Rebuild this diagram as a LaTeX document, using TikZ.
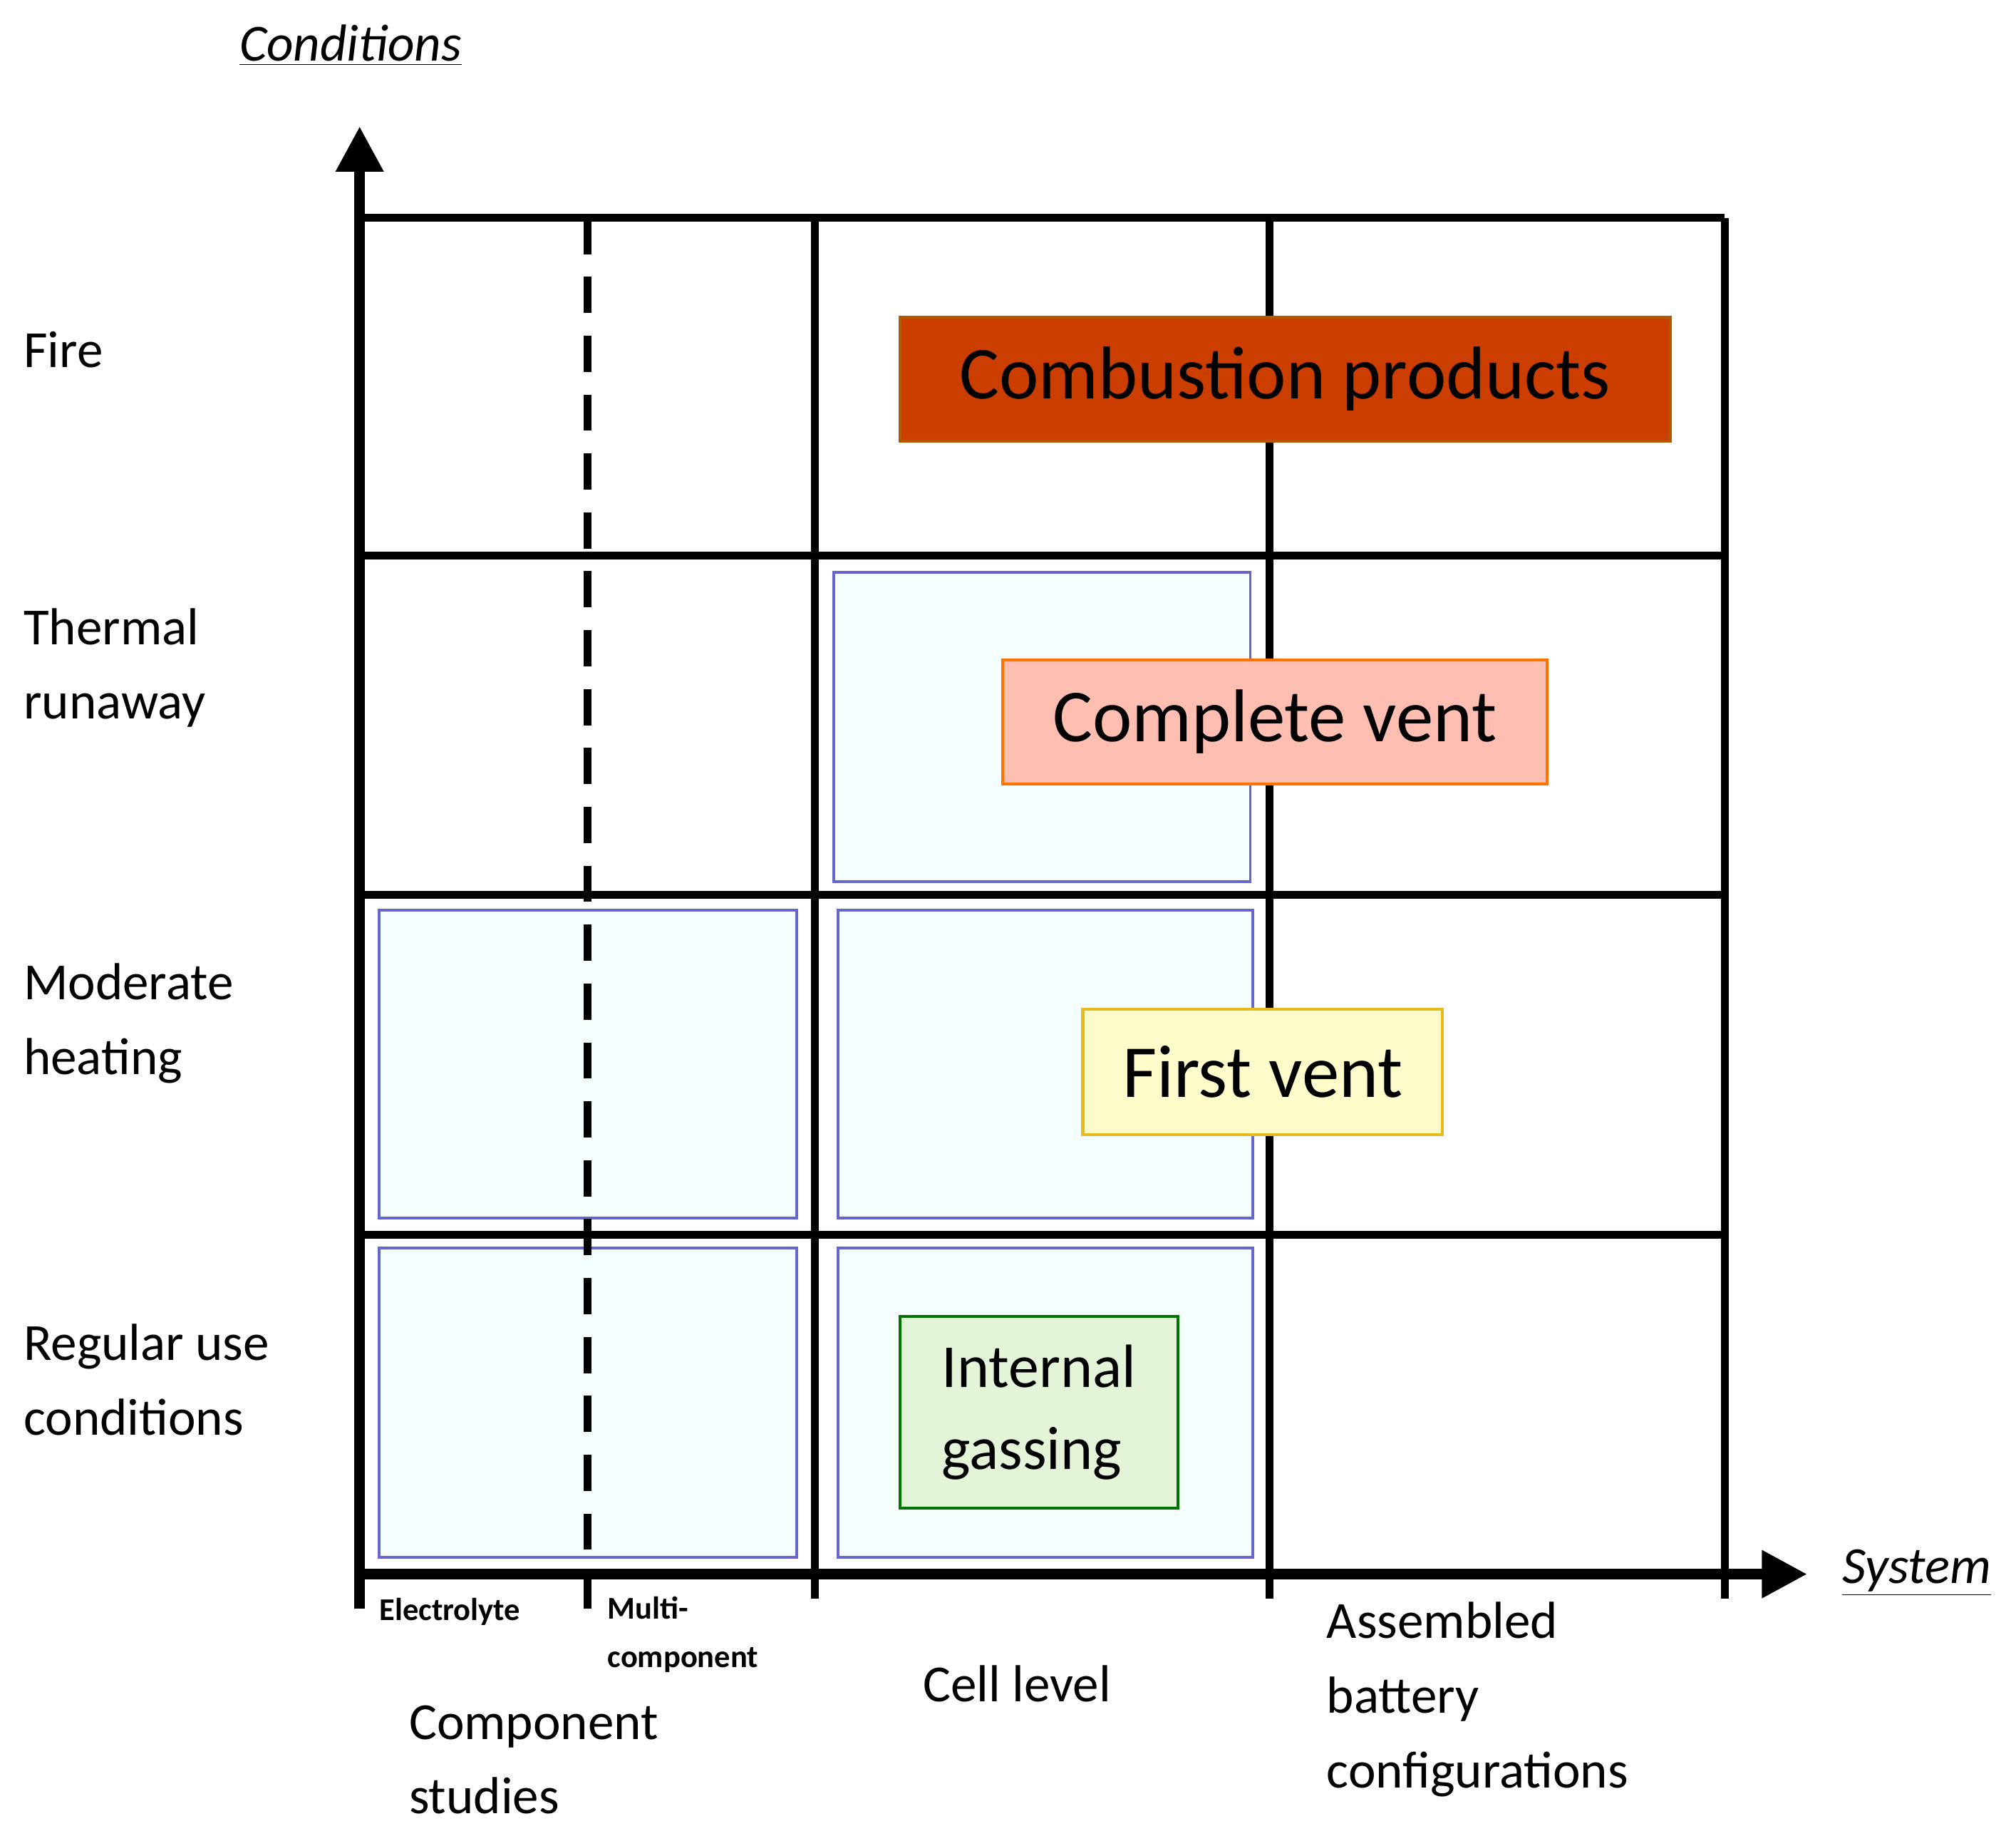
\documentclass[tikz,border=0pt]{standalone}
\usepackage{fontspec}
\setmainfont{Carlito}
\usetikzlibrary{arrows.meta}
\begin{document}
\begin{tikzpicture}[x=0.02cm,y=-0.02cm,
 grid/.style={line width=3.4pt},
 ax/.style={line width=4.6pt,-{Triangle[length=20pt,width=20pt]}},
 blue/.style={draw=blue!50!gray!80,fill=blue!5!cyan!4,line width=1.2pt},
 lab/.style={anchor=west,align=left,font=\fontsize{23}{33}\selectfont,inner sep=0},
 box/.style={line width=1.3pt,font=\fontsize{33}{38}\selectfont,inner sep=0}]
\useasboundingbox (0,0) rectangle (1564,1424);
% blue boxes
\draw[blue] (647,444) rectangle (970,684);
\draw[blue] (294,706) rectangle (618,945);
\draw[blue] (650,706) rectangle (972,945);
\draw[blue] (294,968) rectangle (618,1208);
\draw[blue] (650,968) rectangle (972,1208);
% grid
\foreach \x in {632,985,1338} \draw[grid] (\x,169) -- (\x,1240);
\foreach \y in {169,431,694,958} \draw[grid] (279,\y) -- (1338,\y);
\draw[line width=3.4pt,dash pattern=on 16pt off 10pt] (456,169) -- (456,1248);
% axes
\coordinate (o) at (279,1221);
\coordinate (yt) at (279,98);
\coordinate (xt) at (1402,1221);
\draw[ax] (279,1248) -- (yt);
\draw[ax] (o) -- (xt);
% boxes
\node[box,draw=orange!70!black,fill=orange!60!red!80!black,minimum width=598*0.02cm,minimum height=96*0.02cm] (cp) at (997,294) {Combustion products};
\node[box,draw=orange!90!red,fill=orange!30!red!30!white,minimum width=422*0.02cm,minimum height=96*0.02cm] (cv) at (989,560) {Complete vent};
\node[box,draw=yellow!60!orange!90!black,fill=yellow!20!white,minimum width=279*0.02cm,minimum height=97*0.02cm] (fv) at (979.5,831.5) {First vent};
\node[box,draw=green!45!black,fill=green!40!olive!15!white,minimum width=216*0.02cm,minimum height=149*0.02cm,align=left,font=\fontsize{27}{36}\selectfont] (ig) at (806,1095.5) {Internal\\gassing};
% labels
\node[lab] (l1) at (18,271) {Fire};
\node[lab] (l2) at (18,518) {Thermal\\runaway};
\node[lab] (l3) at (18,794) {Moderate\\heating};
\node[lab] (l4) at (18,1070) {Regular use\\conditions};
\node[font=\itshape\fontsize{23}{28}\selectfont] (c) at (272,35) {\underline{Conditions}};
\node[font=\itshape\fontsize{23}{28}\selectfont] (s) at (1487,1220) {\underline{System}};
\node[font=\bfseries\fontsize{14}{18}\selectfont,anchor=west,inner sep=0] (e) at (294,1250) {Electrolyte};
\node[font=\bfseries\fontsize{14}{21.5}\selectfont,anchor=west,align=left,inner sep=0] (m) at (471,1268) {Multi-\\component};
\node[lab] (cs) at (317,1365) {Component\\studies};
\node[font=\fontsize{23}{28}\selectfont] (cl) at (789,1306) {Cell level};
\node[lab] (ab) at (1029,1318) {Assembled\\battery\\configurations};
\end{tikzpicture}
\end{document}
